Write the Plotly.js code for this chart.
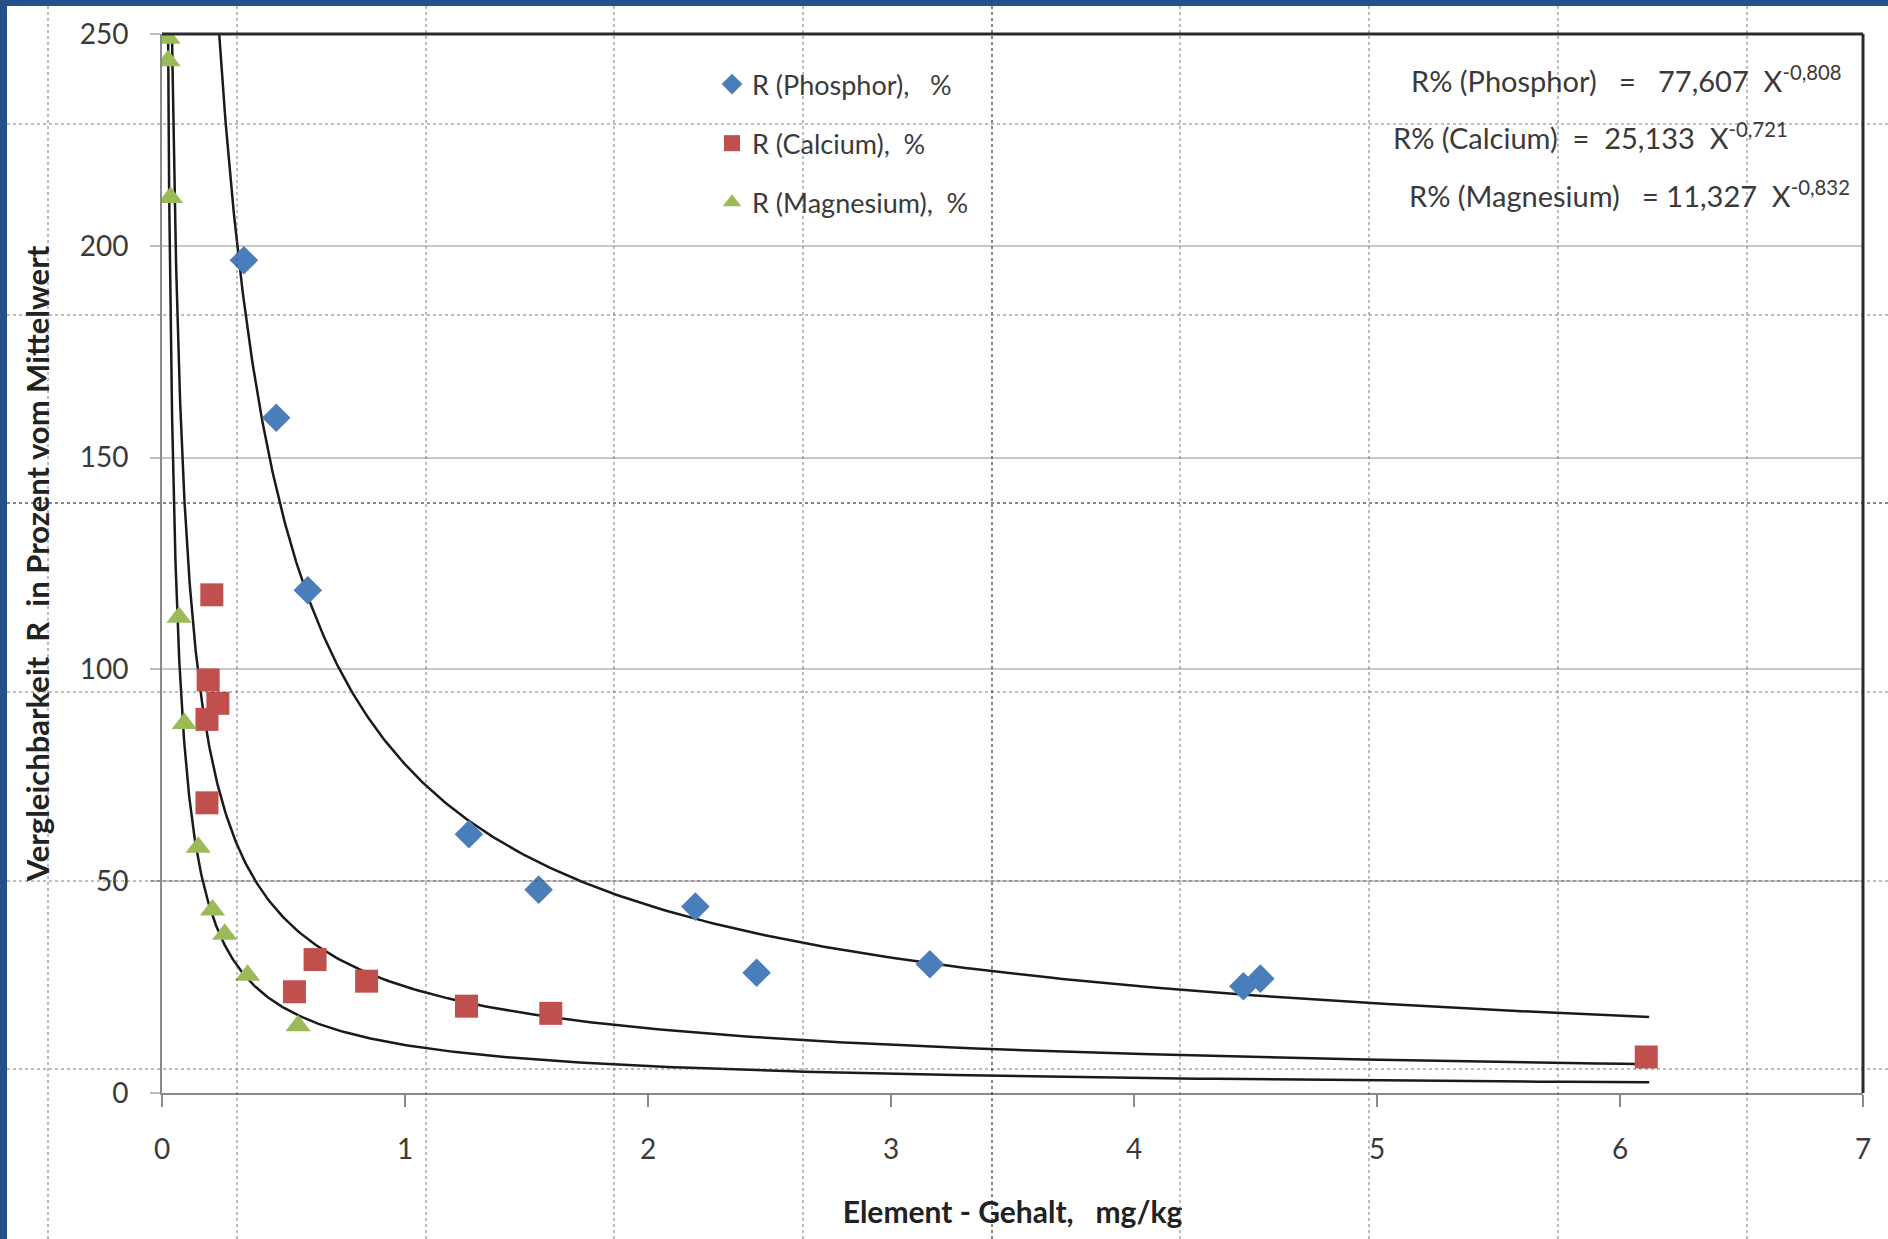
<!DOCTYPE html>
<html>
<head>
<meta charset="utf-8">
<script src="https://cdn.plot.ly/plotly-3.0.1.min.js"></script>
<style>
  html, body { margin: 0; padding: 0; background: #ffffff; }
  #chart { width: 1888px; height: 1239px; }
</style>
</head>
<body>
<div id="chart"></div>
<script>
// ---- Data ----
const phosphorX = [0.337, 0.47, 0.60, 1.263, 1.55, 2.195, 2.447, 3.16, 4.45, 4.52];
const phosphorY = [196.6, 159.4, 118.7, 61.1, 48.0, 44.0, 28.4, 30.4, 25.2, 27.0];

const calciumX = [0.205, 0.19, 0.23, 0.185, 0.185, 0.545, 0.63, 0.842, 1.253, 1.60, 6.108];
const calciumY = [117.6, 97.5, 92.0, 88.2, 68.5, 23.9, 31.5, 26.4, 20.5, 18.8, 8.5];

const magnesiumX = [0.025, 0.025, 0.035, 0.07, 0.092, 0.149, 0.208, 0.258, 0.352, 0.56];
const magnesiumY = [249.0, 243.7, 211.4, 112.3, 87.2, 58.0, 43.2, 37.5, 27.8, 15.9];

// Trendline equations as printed on the chart: R% = a * X^b
const trendNames = ["Phosphor", "Calcium", "Magnesium"];
const trendA = [77.607, 25.133, 11.327];
const trendB = [-0.808, -0.721, -0.832];
const trendXStart = [0.2, 0.03, 0.02];
const trendXEnd = [6.12, 6.12, 6.12];

const legendNames = ["R (Phosphor),&nbsp;&nbsp; %", "R (Calcium),&nbsp; %", "R (Magnesium),&nbsp; %"];
const eqLabels = [
  "R% (Phosphor)&nbsp;&nbsp; =&nbsp;&nbsp; 77,607&nbsp; X<sup>-0,808</sup>",
  "R% (Calcium)&nbsp; =&nbsp; 25,133&nbsp; X<sup>-0,721</sup>",
  "R% (Magnesium)&nbsp;&nbsp; = 11,327&nbsp; X<sup>-0,832</sup>"
];

const xTicks = [0, 1, 2, 3, 4, 5, 6, 7];
const yTicks = [0, 50, 100, 150, 200, 250];

const colors = ["#4A7EBB", "#C0504D", "#9BBB59"];
const symbols = ["diamond", "square", "triangle-up"];
const sizes = [22, 23, 22];

// ---- Build traces ----
const font = "Lato, 'Open Sans', sans-serif";
const traces = [];
const seriesX = [phosphorX, calciumX, magnesiumX];
const seriesY = [phosphorY, calciumY, magnesiumY];

// trend lines (from the printed equations)
for (let i = 0; i < 3; i++) {
  const xs = [], ys = [];
  const n = 300;
  const l0 = Math.log(trendXStart[i]), l1 = Math.log(trendXEnd[i]);
  for (let k = 0; k <= n; k++) {
    const x = Math.exp(l0 + (l1 - l0) * k / n);
    xs.push(x);
    ys.push(trendA[i] * Math.pow(x, trendB[i]));
  }
  traces.push({
    x: xs, y: ys, type: "scatter", mode: "lines",
    line: { color: "#1a1a1a", width: 2.5 },
    showlegend: false, hoverinfo: "skip"
  });
}
for (let i = 0; i < 3; i++) {
  traces.push({
    x: seriesX[i], y: seriesY[i], type: "scatter", mode: "markers",
    name: legendNames[i], legendgroup: "g" + i,
    marker: { symbol: symbols[i], color: colors[i], size: sizes[i], line: { width: 0 } }
  });
}

// ---- Layout ----
const W = 1888, H = 1239;
const L = 162, R = 25, T = 34, B = 146;
const pw = W - L - R, ph = H - T - B;
const px = p => (p - L) / pw;          // pixel x -> paper
const py = p => (H - B - p) / ph;      // pixel y -> paper

const shapes = [];
// scan overlay dotted lines
const vDots = [48, 237, 426, 614, 803, 992, 1180, 1369, 1558, 1747];
const hDots = [124, 315, 503, 692, 881, 1069];
vDots.forEach(v => shapes.push({
  type: "line", xref: "paper", yref: "paper", x0: px(v), x1: px(v), y0: py(H), y1: py(6),
  line: { color: v === 992 ? "rgba(40,40,40,0.75)" : "rgba(60,60,60,0.45)", width: 1.5, dash: "dot" }, layer: "above"
}));
hDots.forEach(h => shapes.push({
  type: "line", xref: "paper", yref: "paper", x0: px(7), x1: px(W), y0: py(h), y1: py(h),
  line: { color: h === 503 ? "rgba(40,40,40,0.75)" : "rgba(60,60,60,0.45)", width: 1.5, dash: "dot" }, layer: "above"
}));
// plot frame top & right (dark)
shapes.push({ type: "line", xref: "paper", yref: "paper", x0: 0, x1: 1, y0: 1, y1: 1, line: { color: "#2a2a2a", width: 3 } });
shapes.push({ type: "line", xref: "paper", yref: "paper", x0: 1, x1: 1, y0: 0, y1: 1, line: { color: "#2a2a2a", width: 3 } });
// blue outer frame
shapes.push({ type: "rect", xref: "paper", yref: "paper", x0: px(0), x1: px(7), y0: py(H), y1: py(0), fillcolor: "#24508C", line: { width: 0 }, layer: "above" });
shapes.push({ type: "rect", xref: "paper", yref: "paper", x0: px(0), x1: px(W), y0: py(6), y1: py(0), fillcolor: "#24508C", line: { width: 0 }, layer: "above" });

const eqY = [79, 136, 194];
const eqX = [1844, 1790, 1852];
const annotations = eqLabels.map((t, i) => ({
  text: t, xref: "paper", yref: "paper", x: px(eqX[i]), y: py(eqY[i]),
  xanchor: "right", yanchor: "middle", showarrow: false,
  font: { family: font, size: 29, color: "#3a3a3a" }
}));

const layout = {
  width: W, height: H,
  margin: { l: L, r: R, t: T, b: B, pad: 0 },
  paper_bgcolor: "#ffffff", plot_bgcolor: "#ffffff",
  showlegend: true,
  legend: {
    x: px(712), y: py(60), xanchor: "left", yanchor: "top",
    bgcolor: "rgba(255,255,255,0)", traceorder: "grouped", tracegroupgap: 21,
    font: { family: font, size: 27, color: "#3a3a3a" }, itemwidth: 30
  },
  xaxis: {
    range: [0, 7], tickvals: xTicks, ticktext: xTicks.map(String),
    showgrid: false, zeroline: false, showline: true, linecolor: "#8a8a8a", linewidth: 2,
    ticks: "outside", ticklen: 12, tickwidth: 2, tickcolor: "#8a8a8a",
    tickfont: { family: font, size: 28, color: "#3a3a3a" }, ticklabelstandoff: 18,
    title: { text: "<b>Element - Gehalt,&nbsp;&nbsp; mg/kg</b>", font: { family: font, size: 30, color: "#222" }, standoff: 38 }
  },
  yaxis: {
    range: [0, 250], tickvals: yTicks, ticktext: yTicks.map(String),
    showgrid: true, gridcolor: "#c8c8c8", gridwidth: 2,
    zeroline: false, showline: true, linecolor: "#8a8a8a", linewidth: 2,
    ticks: "outside", ticklen: 10, tickwidth: 2, tickcolor: "#bdbdbd",
    tickfont: { family: font, size: 28, color: "#3a3a3a" }, ticklabelstandoff: 16,
    title: { text: "<b>Vergleichbarkeit&nbsp; R&nbsp; in Prozent vom Mittelwert</b>", font: { family: font, size: 31, color: "#222" }, standoff: 21 }
  },
  shapes: shapes,
  annotations: annotations
};

Plotly.newPlot("chart", traces, layout, { staticPlot: true, displayModeBar: false });
</script>
</body>
</html>
